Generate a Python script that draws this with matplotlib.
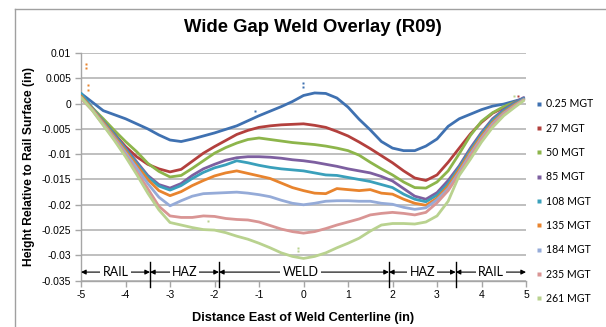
import numpy as np
import matplotlib
matplotlib.use('Agg')
import matplotlib.pyplot as plt
from matplotlib.lines import Line2D

# distance east of weld centerline (in)
dist = [-5.0, -4.75, -4.5, -4.25, -4.0, -3.75, -3.5, -3.25, -3.0, -2.75, -2.5, -2.25,
        -2.0, -1.75, -1.5, -1.25, -1.0, -0.75, -0.5, -0.25, 0.0, 0.25, 0.5, 0.75,
        1.0, 1.25, 1.5, 1.75, 2.0, 2.25, 2.5, 2.75, 3.0, 3.25, 3.5, 3.75, 4.0,
        4.25, 4.5, 4.75, 4.95]

h_025 = [0.0020, 0.0003, -0.0014, -0.0022, -0.0030, -0.0040, -0.0050, -0.0062, -0.0072, -0.0075, -0.0070, -0.0064,
         -0.0058, -0.0051, -0.0044, -0.0034, -0.0024, -0.0015, -0.0006, 0.0004, 0.0016, 0.0021, 0.0020, 0.0011,
         -0.0007, -0.0031, -0.0052, -0.0075, -0.0088, -0.0093, -0.0093, -0.0084, -0.0070, -0.0045, -0.0030, -0.0021, -0.0012,
         -0.0005, -0.0001, 0.0005, 0.0010]
h_27 = [0.0015, -0.0010, -0.0035, -0.0060, -0.0085, -0.0105, -0.0120, -0.0129, -0.0135, -0.0130, -0.0114, -0.0098,
        -0.0085, -0.0073, -0.0061, -0.0053, -0.0047, -0.0044, -0.0042, -0.0041, -0.0040, -0.0043, -0.0047, -0.0055,
        -0.0064, -0.0076, -0.0089, -0.0103, -0.0117, -0.0133, -0.0147, -0.0152, -0.0141, -0.0116, -0.0088, -0.0060, -0.0037,
        -0.0019, -0.0008, 0.0001, 0.0008]
h_50 = [0.0015, -0.0008, -0.0030, -0.0053, -0.0075, -0.0095, -0.0118, -0.0134, -0.0145, -0.0142, -0.0128, -0.0113,
        -0.0098, -0.0087, -0.0078, -0.0071, -0.0068, -0.0071, -0.0074, -0.0077, -0.0079, -0.0081, -0.0084, -0.0088,
        -0.0093, -0.0102, -0.0116, -0.0129, -0.0141, -0.0155, -0.0166, -0.0167, -0.0155, -0.0133, -0.0099, -0.0063, -0.0035,
        -0.0018, -0.0006, 0.0003, 0.0009]
h_85 = [0.0015, -0.0010, -0.0035, -0.0060, -0.0088, -0.0115, -0.0142, -0.0160, -0.0167, -0.0158, -0.0142, -0.0129,
        -0.0120, -0.0112, -0.0107, -0.0105, -0.0105, -0.0106, -0.0108, -0.0111, -0.0113, -0.0116, -0.0120, -0.0124,
        -0.0129, -0.0133, -0.0137, -0.0144, -0.0153, -0.0168, -0.0183, -0.0189, -0.0176, -0.0152, -0.0123, -0.0088, -0.0057,
        -0.0030, -0.0012, 0.0002, 0.0012]
h_108 = [0.0020, -0.0008, -0.0035, -0.0062, -0.0090, -0.0118, -0.0145, -0.0163, -0.0171, -0.0162, -0.0148, -0.0136,
         -0.0127, -0.0121, -0.0113, -0.0117, -0.0122, -0.0126, -0.0129, -0.0131, -0.0133, -0.0137, -0.0141, -0.0142,
         -0.0146, -0.0150, -0.0154, -0.0160, -0.0166, -0.0179, -0.0189, -0.0194, -0.0181, -0.0158, -0.0126, -0.0092, -0.0060,
         -0.0033, -0.0014, 0.0000, 0.0010]
h_135 = [0.0015, -0.0010, -0.0037, -0.0065, -0.0093, -0.0122, -0.0150, -0.0172, -0.0182, -0.0174, -0.0162, -0.0152,
         -0.0143, -0.0137, -0.0133, -0.0138, -0.0143, -0.0148, -0.0157, -0.0166, -0.0172, -0.0177, -0.0178, -0.0168,
         -0.0170, -0.0172, -0.0170, -0.0177, -0.0179, -0.0189, -0.0197, -0.0201, -0.0187, -0.0163, -0.0130, -0.0096, -0.0064,
         -0.0037, -0.0017, -0.0002, 0.0008]
h_184 = [0.0012, -0.0012, -0.0040, -0.0068, -0.0097, -0.0127, -0.0158, -0.0185, -0.0202, -0.0192, -0.0183, -0.0178,
         -0.0177, -0.0176, -0.0175, -0.0177, -0.0180, -0.0184, -0.0191, -0.0197, -0.0200, -0.0197, -0.0193, -0.0192,
         -0.0192, -0.0193, -0.0193, -0.0197, -0.0199, -0.0205, -0.0209, -0.0206, -0.0190, -0.0168, -0.0135, -0.0100, -0.0068,
         -0.0040, -0.0019, -0.0004, 0.0008]
h_235 = [0.0010, -0.0013, -0.0042, -0.0070, -0.0102, -0.0135, -0.0168, -0.0203, -0.0222, -0.0225, -0.0225, -0.0222,
         -0.0223, -0.0227, -0.0229, -0.0230, -0.0234, -0.0241, -0.0248, -0.0253, -0.0256, -0.0253, -0.0247, -0.0240,
         -0.0234, -0.0228, -0.0220, -0.0217, -0.0215, -0.0217, -0.0220, -0.0215, -0.0196, -0.0172, -0.0139, -0.0104, -0.0071,
         -0.0043, -0.0021, -0.0005, 0.0007]
h_261 = [0.0012, -0.0013, -0.0043, -0.0073, -0.0105, -0.0140, -0.0177, -0.0210, -0.0235, -0.0240, -0.0245, -0.0249,
         -0.0250, -0.0255, -0.0262, -0.0268, -0.0276, -0.0285, -0.0295, -0.0302, -0.0306, -0.0302, -0.0295, -0.0285,
         -0.0276, -0.0266, -0.0252, -0.0240, -0.0237, -0.0237, -0.0238, -0.0234, -0.0222, -0.0193, -0.0142, -0.0110, -0.0076,
         -0.0047, -0.0024, -0.0007, 0.0006]

labels = ['0.25 MGT', '27 MGT', '50 MGT', '85 MGT', '108 MGT', '135 MGT', '184 MGT', '235 MGT', '261 MGT']
colors = ['#3F71B1', '#B3403D', '#8DB54B', '#7D5FA0', '#3AA0BB', '#E8842E', '#95ABD8', '#D99594', '#B9D28F']
series = [h_025, h_27, h_50, h_85, h_108, h_135, h_184, h_235, h_261]

# stray points (series index, x, y)
stray_idx = [5, 5, 5, 5, 0, 0, 0, 8, 8, 8, 1, 8]
stray_x = [-4.88, -4.88, -4.85, -4.84, -1.1, -0.02, -0.02, -0.12, -0.12, -2.15, 4.82, 4.72]
stray_y = [0.0079, 0.0071, 0.0036, 0.0027, -0.0015, 0.0040, 0.0033, -0.0286, -0.0292, -0.0232, 0.0015, 0.0015]

# zone annotation
zone_bounds = [(-5.0, -3.45), (-3.45, -1.9), (-1.9, 1.92), (1.92, 3.42), (3.42, 5.0)]
zone_names = ['RAIL', 'HAZ', 'WELD', 'HAZ', 'RAIL']
zone_y = -0.0333

yticks = [-0.035, -0.03, -0.025, -0.02, -0.015, -0.01, -0.005, 0, 0.005, 0.01]
ytick_labels = ['-0.035', '-0.03', '-0.025', '-0.02', '-0.015', '-0.01', '-0.005', '0', '0.005', '0.01']
xticks = [-5, -4, -3, -2, -1, 0, 1, 2, 3, 4, 5]

plt.rcParams['font.family'] = ['Liberation Sans', 'DejaVu Sans']

fig = plt.figure(figsize=(6.06, 3.27), dpi=100)
ax = fig.add_axes([0.1337, 0.1416, 0.7343, 0.6964])

for h, c in zip(series, colors):
    ax.plot(dist, h, color=c, lw=2.0, solid_capstyle='round', zorder=3)
for i, x, y in zip(stray_idx, stray_x, stray_y):
    ax.plot(x, y, 's', color=colors[i], ms=2, mec='none', zorder=3)

ax.set_xlim(-5, 5)
ax.set_ylim(-0.035, 0.01)
ax.set_xticks(xticks)
ax.set_xticklabels([str(t) for t in xticks], fontsize=7.5)
ax.set_yticks(yticks)
ax.set_yticklabels(ytick_labels, fontsize=7.5)
ax.yaxis.grid(True, color='#B4B4B4', lw=1.2, zorder=0)
ax.set_axisbelow(True)
for s in ['top', 'right']:
    ax.spines[s].set_visible(False)
for s in ['left', 'bottom']:
    ax.spines[s].set_color('#A6A6A6')
    ax.spines[s].set_linewidth(1.0)
ax.tick_params(axis='both', colors='#A6A6A6', length=4, width=1.0, labelcolor='black', pad=3)

ax.set_xlabel('Distance East of Weld Centerline (in)', fontsize=9.2, fontweight='bold', labelpad=8)
ax.set_ylabel('Height Relative to Rail Surface (in)', fontsize=8.7, fontweight='bold', labelpad=5)
ax.set_title('Wide Gap Weld Overlay (R09)', fontsize=13.3, fontweight='bold', pad=15, x=0.52)

# zone arrows and boundary bars
for (x0, x1), name in zip(zone_bounds, zone_names):
    ax.annotate('', xy=(x0, zone_y), xytext=(x1, zone_y),
                arrowprops=dict(arrowstyle='<|-|>', color='black', lw=0.8,
                                mutation_scale=7, shrinkA=0, shrinkB=0), zorder=4)
    ax.text((x0 + x1) / 2 - 0.08 * (name == 'WELD'), zone_y, name, ha='center', va='center',
            fontsize=9, family=['Lato', 'DejaVu Sans'], zorder=5,
            bbox=dict(facecolor='white', edgecolor='none', pad=1.5))
for xb in [-3.45, -1.9, 1.92, 3.42]:
    ax.plot([xb, xb], [-0.0314, -0.0363], color='black', lw=1.0, clip_on=False, zorder=5)

handles = [Line2D([], [], ls='none', marker='s', ms=2.2, color=c, mec='none') for c in colors]
fig.legend(handles, labels, loc='upper left', bbox_to_anchor=(0.886, 0.699), frameon=False,
           handlelength=0.4, handletextpad=0.45, labelspacing=1.26, borderaxespad=0,
           borderpad=0, prop={'family': ['Lato', 'DejaVu Sans'], 'size': 7.6})

# chart area border
fig.add_artist(Line2D([14.5 / 606, 14.5 / 606], [0, 1 - 9 / 327], color='#A0A0A0', lw=1.0))
fig.add_artist(Line2D([14.5 / 606, 1], [1 - 9 / 327, 1 - 9 / 327], color='#A0A0A0', lw=1.0))

fig.savefig('out.png', dpi=100)
